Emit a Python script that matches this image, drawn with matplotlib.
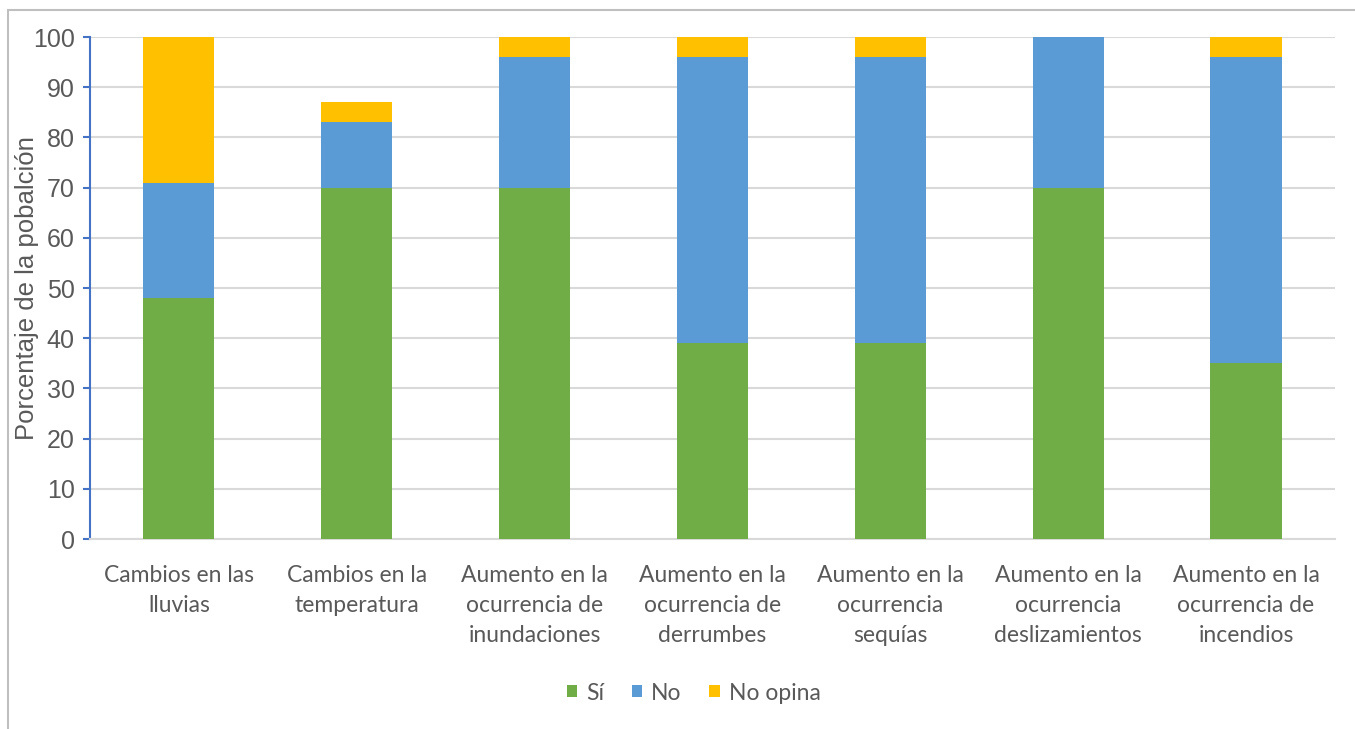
import numpy as np
import matplotlib
matplotlib.use('Agg')
import matplotlib.pyplot as plt
from matplotlib.patches import Rectangle

categorias = ['Cambios en las\nlluvias', 'Cambios en la\ntemperatura',
              'Aumento en la\nocurrencia de\ninundaciones',
              'Aumento en la\nocurrencia de\nderrumbes',
              'Aumento en la\nocurrencia\nsequías',
              'Aumento en la\nocurrencia\ndeslizamientos',
              'Aumento en la\nocurrencia de\nincendios']
si = [48, 70, 70, 39, 39, 70, 35]
no = [23, 13, 26, 57, 57, 30, 61]
no_opina = [29, 4, 4, 4, 4, 0, 4]
yticks = list(range(0, 101, 10))

gris = '#595959'
fig = plt.figure(figsize=(13.55, 7.29), dpi=100)
ax = fig.add_axes([0.0664, 0.2606, 0.9188, 0.6886])

x = np.arange(len(categorias))
si = np.array(si)
no = np.array(no)
no_opina = np.array(no_opina)
w = 0.4
ax.bar(x, si, w, color='#70AD47', label='Sí', zorder=3)
ax.bar(x, no, w, bottom=si, color='#5B9BD5', label='No', zorder=3)
ax.bar(x, no_opina, w, bottom=si + no, color='#FFC000', label='No opina', zorder=3)

ax.set_xlim(-0.5, len(categorias) - 0.5)
ax.set_ylim(0, 100)
ax.set_yticks(yticks)
ax.set_yticklabels([str(t) for t in yticks], fontsize=18, color=gris,
                   family='Liberation Sans')
ax.set_xticks(x)
ax.set_xticklabels(categorias, fontsize=16.5, color=gris, family='Lato',
                   linespacing=1.52)
ax.tick_params(axis='x', length=0, pad=19)
ax.tick_params(axis='y', length=5, width=1.5, color='#4472C4', direction='out', pad=6)
ax.grid(axis='y', color='#D9D9D9', linewidth=1.5, zorder=0)

for s in ['top', 'right']:
    ax.spines[s].set_visible(False)
ax.spines['left'].set_color('#4472C4')
ax.spines['left'].set_linewidth(1.5)
ax.spines['bottom'].set_color('#D9D9D9')
ax.spines['bottom'].set_linewidth(1.5)

fig.text(27 / 1355, 1 - 288 / 729, 'Porcentaje de la pobalción', rotation=90,
         ha='center', va='center', fontsize=18.5, color=gris, family='Liberation Sans')

fig.legend(loc='center', bbox_to_anchor=(0.512, 1 - 693 / 729),
           bbox_transform=fig.transFigure, ncol=3, frameon=False,
           prop={'family': 'Lato', 'size': 16.5}, handlelength=0.45, handleheight=0.45,
           columnspacing=1.2, handletextpad=0.4, labelcolor=gris)

# marco gris de la figura
fig.patches.append(Rectangle((8 / 1355, -0.1), 1.2, 1 - 10 / 729 + 0.1,
                             transform=fig.transFigure, fill=False,
                             edgecolor='#BFBFBF', linewidth=1.5))

fig.savefig('out.png', dpi=100)
